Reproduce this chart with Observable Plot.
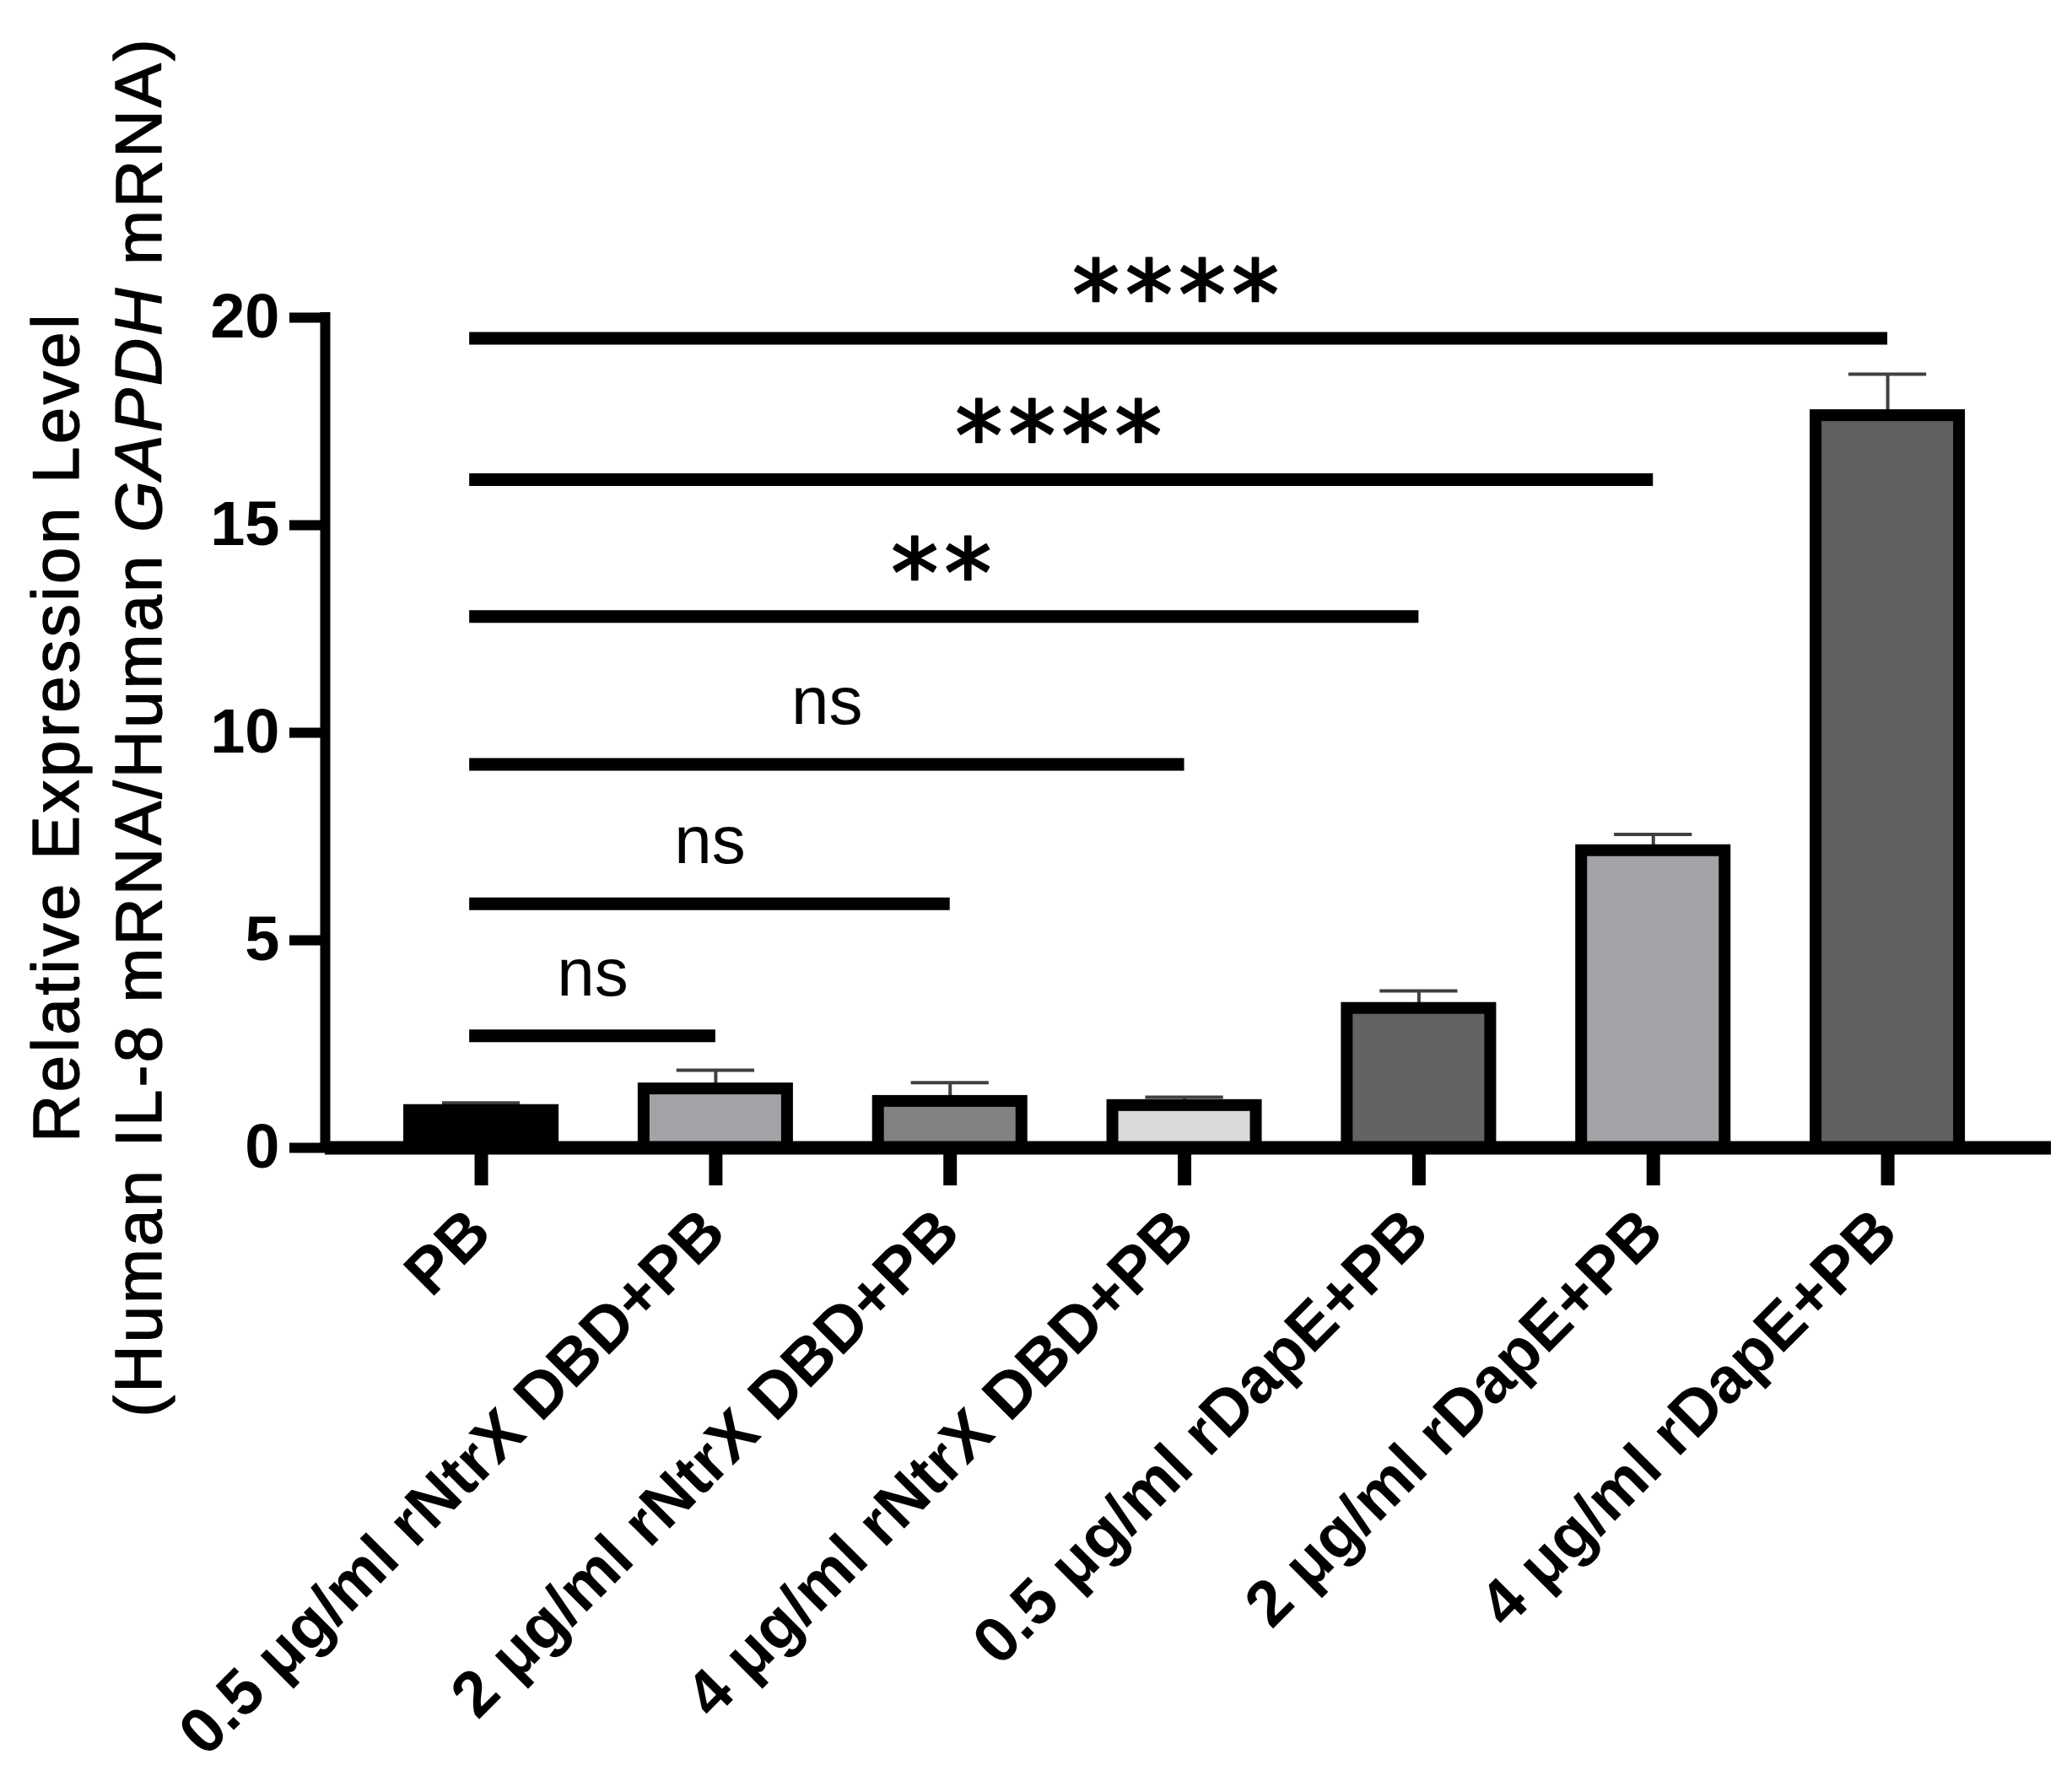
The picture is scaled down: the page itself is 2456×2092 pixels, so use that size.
<!DOCTYPE html>
<html><head><meta charset="utf-8">
<script src="https://cdn.jsdelivr.net/npm/d3@7"></script>
<script src="https://cdn.jsdelivr.net/npm/@observablehq/plot@0.6"></script>
<style>body{margin:0;background:#fff} svg{display:block}</style>
</head><body><div id="chart"></div>
<script>
// ---- data ----
const categories = [
  "PB",
  "0.5 μg/ml rNtrX DBD+PB",
  "2 μg/ml rNtrX DBD+PB",
  "4 μg/ml rNtrX DBD+PB",
  "0.5 μg/ml rDapE+PB",
  "2 μg/ml rDapE+PB",
  "4 μg/ml rDapE+PB"
];
const means = [0.9, 1.42, 1.12, 1.02, 3.36, 7.16, 17.64];
const sems  = [0.18, 0.45, 0.45, 0.20, 0.42, 0.39, 1.0];
const fills = ["#000000", "#a3a3a7", "#818181", "#d9d9d9", "#636363", "#a3a3a7", "#606060"];
const yTicks = [0, 5, 10, 15, 20];
const compFrom = "PB";
const compTargets = [
  "0.5 μg/ml rNtrX DBD+PB",
  "2 μg/ml rNtrX DBD+PB",
  "4 μg/ml rNtrX DBD+PB",
  "0.5 μg/ml rDapE+PB",
  "2 μg/ml rDapE+PB",
  "4 μg/ml rDapE+PB"
];
const compHeights = [2.7, 5.88, 9.24, 12.8, 16.1, 19.5];
const compLabels = ["ns", "ns", "ns", "**", "****", "****"];
const titleLine1 = "Relative Expression Level";
const titleLine2 = "(Human IL-8 mRNA/Human GAPDH mRNA)";

// ---- build ----
const FONT = '"Liberation Sans", Arial, Helvetica, sans-serif';
const xDomain = [-0.666, 6.698];
const halfBar = 0.306, halfCap = 0.166, startInset = 0.05;
const rows = categories.map((c, i) => ({cat: c, i, mean: means[i], sem: sems[i], fill: fills[i]}));
const comps = compTargets.map((t, k) => ({
  x1: categories.indexOf(compFrom) - startInset, x2: categories.indexOf(t),
  y: compHeights[k], label: compLabels[k]
}));

const plot = Plot.plot({
  width: 2456, height: 2092,
  marginLeft: 385, marginRight: 25, marginTop: 376, marginBottom: 732,
  style: {fontFamily: FONT, background: "white", overflow: "visible", color: "black"},
  x: {domain: xDomain, axis: null},
  y: {domain: [0, 20], axis: null},
  color: {type: "identity"},
  marks: [
    // error bars (upper only)
    Plot.ruleX(rows, {x: "i", y1: "mean", y2: d => d.mean + d.sem, stroke: "#404040", strokeWidth: 4}),
    Plot.ruleY(rows, {y: d => d.mean + d.sem, x1: d => d.i - halfCap, x2: d => d.i + halfCap, stroke: "#404040", strokeWidth: 4}),
    // bars
    Plot.rectY(rows, {x1: d => d.i - halfBar, x2: d => d.i + halfBar, y1: 0, y2: "mean", fill: "fill", stroke: "black", strokeWidth: 14}),
    // axes lines
    Plot.ruleY([0], {stroke: "black", strokeWidth: 16}),
    Plot.ruleX([xDomain[0]], {y1: 0, y2: 20, stroke: "black", strokeWidth: 12, strokeLinecap: "square"}),
    Plot.axisY(yTicks, {anchor: "left", tickSize: 42, tickPadding: 12, strokeWidth: 12, fontSize: 74, fontWeight: "bold", label: null}),
    Plot.axisX(d3.range(categories.length), {anchor: "bottom", tickSize: 45, strokeWidth: 16, tickFormat: () => "", label: null}),
    // x labels
    Plot.text(rows, {x: "i", text: "cat", frameAnchor: "bottom", rotate: -45, textAnchor: "end", lineAnchor: "bottom",
      dx: 15, dy: 104, fontSize: 76, fontWeight: "bold"}),
    // significance
    Plot.ruleY(comps, {x1: "x1", x2: "x2", y: "y", stroke: "black", strokeWidth: 15}),
    Plot.text(comps.filter(d => d.label === "ns"), {x: d => (d.x1 + d.x2) / 2, y: "y", text: "label",
      lineAnchor: "bottom", dy: -48, fontSize: 80}),
    Plot.text(comps.filter(d => d.label !== "ns"), {x: d => (d.x1 + d.x2) / 2, y: "y", text: "label",
      lineAnchor: "bottom", dy: -12, fontSize: 112, fontFamily: "DejaVu Sans",
      fill: "black", stroke: "black", strokeWidth: 2.5}),
    // y title
    Plot.text([titleLine1], {frameAnchor: "left", rotate: -90, textAnchor: "middle", lineAnchor: "bottom", dx: -293, dy: -7,
      fontSize: 78, fill: "black", stroke: "black", strokeWidth: 1.4}),
    Plot.text([titleLine2], {frameAnchor: "left", rotate: -90, textAnchor: "middle", lineAnchor: "bottom", dx: -195, dy: -7,
      fontSize: 78, fill: "black", stroke: "black", strokeWidth: 1.4})
  ]
});

// post-process: letter spacing + italic gene name
d3.select(plot).selectAll("text").each(function() {
  const t = this.textContent;
  const el = d3.select(this);
  if (t === titleLine1) el.attr("letter-spacing", 3.5);
  if (t === titleLine2) {
    el.attr("letter-spacing", 3);
    const parts = t.split("GAPDH");
    el.text(null);
    el.append("tspan").text(parts[0]);
    el.append("tspan").attr("font-style", "italic").text("GAPDH");
    el.append("tspan").text(parts[1]);
  }
  if (t === "**" || t === "****") el.attr("letter-spacing", 7);
});

document.getElementById("chart").appendChild(plot);
</script>
</body></html>
